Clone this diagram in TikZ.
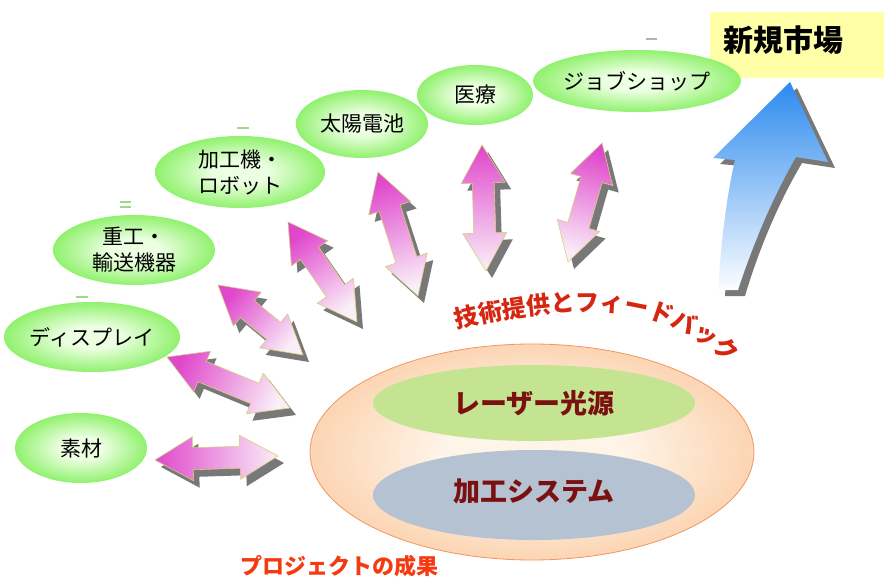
\documentclass[tikz,border=0pt]{standalone}
\usepackage{fontspec}
\newfontfamily\jp{Noto Sans CJK JP}
\usetikzlibrary{shapes.geometric,calc,decorations.text}

\definecolor{gc1}{RGB}{236,255,226}
\definecolor{gc2}{RGB}{96,234,48}
\definecolor{pe1}{RGB}{255,244,232}
\definecolor{pe2}{RGB}{249,190,140}
\definecolor{lgr}{RGB}{196,228,146}
\definecolor{lbl}{RGB}{180,194,210}
\definecolor{pk1}{RGB}{224,72,204}
\definecolor{pk2}{RGB}{250,238,248}
\definecolor{pkedge}{RGB}{214,206,120}
\definecolor{shad}{RGB}{120,120,120}
\definecolor{bl1}{RGB}{44,138,238}
\definecolor{bl2}{RGB}{252,253,255}
\definecolor{ybox}{RGB}{255,255,168}
\definecolor{dred}{RGB}{122,16,16}
\definecolor{fbred}{RGB}{214,38,18}
\definecolor{orred}{RGB}{245,58,18}
\definecolor{dashg}{RGB}{160,215,140}

\pgfdeclareradialshading{greenglow}{\pgfpoint{0bp}{0bp}}{color(0bp)=(gc1); color(8bp)=(gc1); color(34bp)=(gc2); color(50bp)=(gc2)}
\pgfdeclareradialshading{peachglow}{\pgfpoint{0bp}{0bp}}{color(0bp)=(pe1); color(10bp)=(pe1); color(36bp)=(pe2); color(50bp)=(pe2)}
\pgfdeclareradialshading{lgglow}{\pgfpoint{0bp}{0bp}}{color(0bp)=(lgr); color(38bp)=(lgr); color(50bp)=(lgr!55!pe1)}
\pgfdeclareradialshading{lbglow}{\pgfpoint{0bp}{0bp}}{color(0bp)=(lbl); color(40bp)=(lbl); color(50bp)=(lbl!70!pe1)}

\newcommand\setarr[2]{%
  \coordinate (pA) at #1; \coordinate (pB) at #2;
  \coordinate (pH1) at ($(pA)!38pt!(pB)$);
  \coordinate (pH2) at ($(pB)!38pt!(pA)$);}
\newcommand\arrpoly{(pA) -- ($(pH1)!22pt!90:(pB)$) -- ($(pH1)!11pt!90:(pB)$) -- ($(pH2)!11pt!-90:(pA)$) -- ($(pH2)!22pt!-90:(pA)$) -- (pB) -- ($(pH2)!22pt!90:(pA)$) -- ($(pH2)!11pt!90:(pA)$) -- ($(pH1)!11pt!-90:(pB)$) -- ($(pH1)!22pt!-90:(pB)$) -- cycle}
\newcommand\pinkarr[5]{%
  \setarr{($(#1,#2)+(6,7)$)}{($(#3,#4)+(6,7)$)}
  \fill[arrshadow] \arrpoly;
  \setarr{(#1,#2)}{(#3,#4)}
  \shadedraw[arrbody, shading angle=#5] \arrpoly;}

\begin{document}
\begin{tikzpicture}[x=1pt,y=-1pt,
  greenell/.style={ellipse, shade, shading=greenglow, inner sep=0pt, align=center,
    font=\jp\fontsize{21}{26}\selectfont, text=black},
  arrshadow/.style={fill=shad},
  arrbody/.style={top color=pk1, bottom color=pk2, draw=pkedge, line width=0.6pt},
  coretext/.style={font=\jp\bfseries\fontsize{27}{27}\selectfont, text=dred},
  artdash/.style={draw=dashg, line width=1.2pt}]
\useasboundingbox (0,0) rectangle (884,579);
\fill[white] (0,0) rectangle (884,579);

% small marks
\draw[artdash] (237,128) -- (249,128);
\draw[artdash] (120,202) -- (131,202);
\draw[artdash] (120,207) -- (131,207);
\draw[artdash] (76,297) -- (88,297);
\draw[draw=gray!60, line width=1.2pt] (646,39) -- (657,39);

% target box
\node[fill=ybox, minimum width=174pt, minimum height=66pt, inner sep=0pt, anchor=north west] (box) at (710,12) {};
\node[font=\jp\bfseries\fontsize{30}{30}\selectfont, text=black] (market) at (783,40) {新規市場};

% big blue arrow
\fill[shad] (797,88) -- (835,168) -- (802,163) .. controls (777,205) and (757,255) .. (745,296) -- (725,296) .. controls (729,236) and (735,196) .. (742,166) -- (720,164) -- cycle;
\shade[top color=bl1, bottom color=bl2] (790,82) -- (828,162) -- (796,157) .. controls (771,200) and (751,250) .. (738,290) -- (718,290) .. controls (722,230) and (728,190) .. (735,160) -- (713,158) -- cycle;

% central ellipse
\node[ellipse, shade, shading=peachglow, draw={rgb,255:red,240;green,150;blue,100}, line width=0.8pt,
  minimum width=444pt, minimum height=216pt, inner sep=0pt] (core) at (532,452) {};
\node[ellipse, shade, shading=lgglow, minimum width=322pt, minimum height=76pt, inner sep=0pt] (laser) at (534,403) {};
\node[ellipse, shade, shading=lbglow, minimum width=322pt, minimum height=90pt, inner sep=0pt] (proc) at (534,495) {};
\node[coretext] (lasertxt) at (534,403) {レーザー光源};
\node[coretext] (proctxt) at (534,491) {加工システム};

% green ellipses
\node[greenell, minimum width=132pt, minimum height=70pt] (sozai) at (81,448) {素材};
\node[greenell, minimum width=172pt, minimum height=70pt] (disp) at (92,337) {ディスプレイ};
\node[greenell, minimum width=162pt, minimum height=70pt] (juko) at (134,250) {重工・\\輸送機器};
\node[greenell, minimum width=170pt, minimum height=72pt] (kako) at (240,172) {加工機・\\ロボット};
\node[greenell, minimum width=132pt, minimum height=68pt] (taiyo) at (362,124) {太陽電池};
\node[greenell, minimum width=116pt, minimum height=60pt] (iryo) at (475,95) {医療};
\node[greenell, minimum width=180pt, minimum height=62pt] (job) at (637,81) {ジョブショップ};

% pink double arrows
\pinkarr{155}{460}{278}{456}{90}
\pinkarr{167}{357}{290}{408}{67}
\pinkarr{218}{285}{303}{355}{50}
\pinkarr{288}{222}{357}{322}{35}
\pinkarr{378}{172}{418}{296}{18}
\pinkarr{482}{145}{486}{271}{2}
\pinkarr{602}{143}{568}{262}{-16}

% curved label
\coordinate (fbs) at (457,329);
\coordinate (fbm) at (648,318);
\coordinate (fbe) at (722,357);
\path[decorate, decoration={text along path, text align=fit to path,
   text format delimiters={|}{|},
   text={|\jp\bfseries\fontsize{24}{24}\selectfont\color{fbred}|技術提供とフィードバック}}]
  (fbs) .. controls (530,311) and (608,305) .. (fbm) .. controls (676,326) and (702,340) .. (fbe);

% bottom caption
\node[font=\jp\bfseries\fontsize{22}{22}\selectfont, text=orred] (result) at (339,566) {プロジェクトの成果};
\end{tikzpicture}
\end{document}
